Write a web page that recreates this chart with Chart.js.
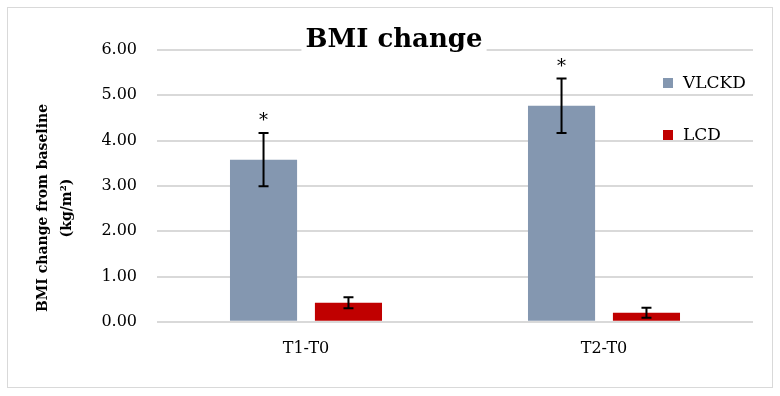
<!DOCTYPE html>
<html>
<head>
<meta charset="utf-8">
<script src="https://cdn.jsdelivr.net/npm/chart.js@4.4.1/dist/chart.umd.min.js"></script>
<style>
  html, body { margin: 0; padding: 0; background: #fff; }
  #wrap { width: 780px; height: 396px; }
</style>
</head>
<body>
<div id="wrap"><canvas id="bmiChart" width="780" height="396"></canvas></div>
<script>
// values
const categories = ['T1-T0', 'T2-T0'];
const vlckdMean = [3.58, 4.77];
const vlckdErr = [0.59, 0.60];
const lcdMean = [0.42, 0.20];
const lcdErr = [0.12, 0.11];
const vlckdMarks = ['*', '*'];
const yTicks = [0, 1, 2, 3, 4, 5, 6];
const yTitle = ['BMI change from baseline', '(kg/m²)'];

const serif = "'DejaVu Serif', 'Liberation Serif', serif";

// white background + light frame
const framePlugin = {
  id: 'frame',
  beforeDraw(chart) {
    const c = chart.ctx;
    c.save();
    c.fillStyle = '#fff';
    c.fillRect(0, 0, chart.width, chart.height);
    c.strokeStyle = '#d9d9d9';
    c.lineWidth = 1;
    c.strokeRect(7.5, 7.5, chart.width - 15, chart.height - 16);
    c.restore();
  }
};

// error bars and asterisks
const errorPlugin = {
  id: 'errorBars',
  afterDatasetsDraw(chart) {
    const c = chart.ctx;
    const y = chart.scales.y;
    c.save();
    chart.data.datasets.forEach(function (ds, di) {
      const meta = chart.getDatasetMeta(di);
      meta.data.forEach(function (bar, i) {
        const top = y.getPixelForValue(ds.data[i] + ds.err[i]);
        const bot = y.getPixelForValue(ds.data[i] - ds.err[i]);
        c.strokeStyle = '#000';
        c.lineWidth = 2;
        c.beginPath();
        c.moveTo(bar.x, top); c.lineTo(bar.x, bot);
        c.moveTo(bar.x - 5, top); c.lineTo(bar.x + 5, top);
        c.moveTo(bar.x - 5, bot); c.lineTo(bar.x + 5, bot);
        c.stroke();
        if (ds.marks && ds.marks[i]) {
          c.fillStyle = '#000';
          c.font = '18px ' + serif;
          c.textAlign = 'center';
          c.textBaseline = 'alphabetic';
          c.fillText(ds.marks[i], bar.x, top - 7);
        }
      });
    });
    c.restore();
  }
};

// title, y title and legend drawn by hand
const overlayPlugin = {
  id: 'overlay',
  afterDraw(chart) {
    const c = chart.ctx;
    const area = chart.chartArea;
    c.save();
    c.font = 'bold 26px ' + serif;
    c.textAlign = 'center';
    c.textBaseline = 'alphabetic';
    const tw = c.measureText('BMI change').width;
    const tx = chart.width / 2 + 4;
    c.fillStyle = '#fff';
    c.fillRect(tx - tw / 2 - 4, 24, tw + 8, 34);
    c.fillStyle = '#000';
    c.fillText('BMI change', tx, 47);

    // y axis title, two lines rotated
    c.save();
    c.translate(43, 208);
    c.rotate(-Math.PI / 2);
    c.font = 'bold 14px ' + serif;
    c.textBaseline = 'middle';
    yTitle.forEach(function (line, i) {
      c.fillText(line, 0, i * 24);
    });
    c.restore();

    c.font = '17px ' + serif;
    c.textAlign = 'left';
    c.textBaseline = 'middle';
    chart.data.datasets.forEach(function (ds, di) {
      const lx = area.right - 90;
      const ly = area.top + 33 + di * 52;
      c.fillStyle = ds.backgroundColor;
      c.fillRect(lx, ly - 5, 10, 10);
      c.fillStyle = '#000';
      c.fillText(ds.label, lx + 20, ly + 1);
    });
    c.restore();
  }
};

const ctx = document.getElementById('bmiChart').getContext('2d');
const chart = new Chart(ctx, {
  type: 'bar',
  data: {
    labels: categories,
    datasets: [{
      label: 'VLCKD',
      data: vlckdMean,
      err: vlckdErr,
      marks: vlckdMarks,
      backgroundColor: '#8497B0',
      categoryPercentage: 0.57,
      barPercentage: 0.79
    }, {
      label: 'LCD',
      data: lcdMean,
      err: lcdErr,
      backgroundColor: '#C00000',
      categoryPercentage: 0.57,
      barPercentage: 0.79
    }]
  },
  options: {
    responsive: false,
    animation: false,
    layout: { padding: { left: 7, right: 27, top: 50, bottom: 29 } },
    plugins: {
      legend: { display: false },
      title: { display: false },
      tooltip: { enabled: false }
    },
    scales: {
      x: {
        grid: { display: false },
        border: { display: false },
        ticks: { color: '#000', font: { family: serif, size: 16 }, padding: 9 }
      },
      y: {
        min: 0,
        max: 6,
        afterFit: function (scale) { scale.width = 150; },
        afterBuildTicks: function (scale) {
          scale.ticks = yTicks.map(function (v) { return { value: v }; });
        },
        grid: { color: '#d9d9d9', lineWidth: 2, drawTicks: false },
        border: { display: false },
        ticks: {
          color: '#000',
          padding: 20,
          font: { family: serif, size: 16 },
          callback: function (v) { return Number(v).toFixed(2); }
        }
      }
    }
  },
  plugins: [framePlugin, errorPlugin, overlayPlugin]
});
</script>
</body>
</html>
